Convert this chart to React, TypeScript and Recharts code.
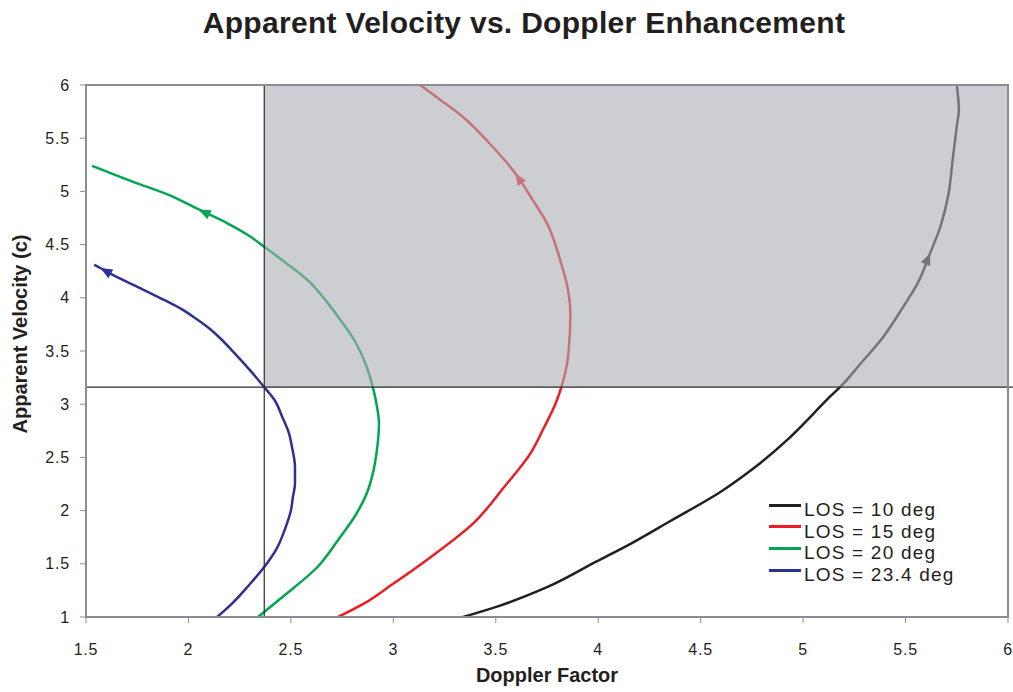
import { LineChart, Line, XAxis, YAxis, ReferenceArea, ReferenceLine, Legend, Label } from "recharts";

const xTicks = [1.5, 2, 2.5, 3, 3.5, 4, 4.5, 5, 5.5, 6];
const yTicks = [1, 1.5, 2, 2.5, 3, 3.5, 4, 4.5, 5, 5.5, 6];

// [doppler factor, apparent velocity], in the order the arrows run
const los10 = [
  [3.34, 1.0], [3.51, 1.1], [3.75, 1.28], [3.99, 1.52], [4.16, 1.69], [4.35, 1.9],
  [4.6, 2.18], [4.76, 2.4], [4.92, 2.66], [5.05, 2.91], [5.12, 3.05], [5.18, 3.16],
  [5.28, 3.38], [5.39, 3.63], [5.49, 3.92], [5.56, 4.14], [5.62, 4.42], [5.67, 4.67],
  [5.71, 4.98], [5.73, 5.3], [5.75, 5.61], [5.76, 5.77], [5.75, 6.0],
];
const los15 = [
  [2.73, 1.0], [2.86, 1.13], [2.99, 1.3], [3.18, 1.56], [3.39, 1.88], [3.54, 2.22],
  [3.67, 2.54], [3.73, 2.76], [3.795, 3.02], [3.82, 3.16], [3.855, 3.48], [3.864, 3.85],
  [3.85, 4.1], [3.815, 4.35], [3.75, 4.7], [3.68, 4.92], [3.595, 5.17], [3.47, 5.45],
  [3.34, 5.7], [3.23, 5.86], [3.13, 6.0],
];
const los20 = [
  [2.34, 1.0], [2.46, 1.19], [2.63, 1.47], [2.74, 1.75], [2.81, 1.94], [2.87, 2.16],
  [2.9, 2.35], [2.92, 2.57], [2.93, 2.82], [2.92, 2.98], [2.9, 3.16], [2.87, 3.35],
  [2.81, 3.6], [2.75, 3.77], [2.68, 3.95], [2.58, 4.17], [2.46, 4.35], [2.37, 4.48],
  [2.29, 4.59], [2.19, 4.7], [2.05, 4.83], [1.9, 4.97], [1.73, 5.09], [1.53, 5.24],
];
const los234 = [
  [2.14, 1.0], [2.22, 1.14], [2.3, 1.31], [2.37, 1.47], [2.43, 1.64], [2.47, 1.82],
  [2.5, 2.0], [2.51, 2.13], [2.52, 2.25], [2.52, 2.41], [2.505, 2.6], [2.49, 2.73],
  [2.46, 2.87], [2.42, 3.04], [2.37, 3.16], [2.3, 3.32], [2.22, 3.49], [2.155, 3.62],
  [2.09, 3.73], [2.025, 3.82], [1.96, 3.9], [1.86, 4.0], [1.765, 4.09], [1.635, 4.21],
  [1.57, 4.28], [1.54, 4.31],
];

// threshold lines bounding the shaded region
const dopplerCut = 2.37;
const velocityCut = 3.16;

const series = [
  { name: "LOS = 10 deg", color: "#231f20", points: los10, arrowAt: 16 },
  { name: "LOS = 15 deg", color: "#ed1c24", points: los15, arrowAt: 16 },
  { name: "LOS = 20 deg", color: "#00a651", points: los20, arrowAt: 20 },
  { name: "LOS = 23.4 deg", color: "#2e3192", points: los234, arrowAt: 24 },
];

const FONT = '"Liberation Sans", Arial, Helvetica, sans-serif';

// arrowhead drawn at one point, pointing along the curve
const makeArrow = (color: string, arrowAt: number, pts: number[][]) => (props: any) => {
  const { cx, cy, index, points } = props;
  if (index !== arrowAt || cx == null) return <g key={`a-${index}`} />;
  let px: number, py: number;
  if (points && points[index - 1]) {
    px = points[index - 1].x;
    py = points[index - 1].y;
  } else {
    px = cx - (pts[index][0] - pts[index - 1][0]) * 205;
    py = cy + (pts[index][1] - pts[index - 1][1]) * 106;
  }
  const ang = Math.atan2(cy - py, cx - px);
  const len = 12;
  const hw = 5;
  const bx = cx - Math.cos(ang) * len;
  const by = cy - Math.sin(ang) * len;
  const nx = -Math.sin(ang) * hw;
  const ny = Math.cos(ang) * hw;
  return (
    <polygon
      key={`a-${index}`}
      points={`${cx},${cy} ${bx + nx},${by + ny} ${bx - nx},${by - ny}`}
      fill={color}
      stroke="none"
    />
  );
};

const LegendBox = () => (
  <div style={{ fontFamily: FONT, fontSize: 19, letterSpacing: 1.2, color: "#231f20" }}>
    {series.map((s) => (
      <div key={s.name} style={{ display: "flex", alignItems: "flex-start", height: 21.7, lineHeight: "21.7px" }}>
        <span style={{ display: "inline-block", width: 32, height: 3, marginTop: 4.5, marginRight: 3, background: s.color }} />
        <span style={{ whiteSpace: "nowrap" }}>{s.name}</span>
      </div>
    ))}
  </div>
);

export default function App() {
  return (
    <div style={{ position: "absolute", left: 0, top: 0, width: 1013, height: 692, background: "#fff" }}>
      <div
        style={{
          position: "absolute",
          left: 0,
          top: 3,
          width: 1048,
          textAlign: "center",
          fontFamily: FONT,
          fontWeight: "bold",
          fontSize: 30,
          lineHeight: "40px",
          color: "#231f20",
          letterSpacing: 0.3,
        }}
      >
        Apparent Velocity vs. Doppler Enhancement
      </div>
      <LineChart width={1013} height={692} margin={{ top: 85, right: 5, bottom: 0, left: 0 }}>
        <XAxis
          type="number"
          dataKey="d"
          domain={[1.5, 6]}
          ticks={xTicks}
          allowDataOverflow
          height={75}
          axisLine={false}
          tickLine={{ stroke: "#8a8d93" }}
          tickSize={6}
          tickMargin={21}
          tick={{ fill: "#231f20", fontSize: 16, fontFamily: FONT, letterSpacing: 0.8 }}
        >
          <Label
            content={() => (
              <text x={547} y={682} textAnchor="middle" fontFamily={FONT} fontWeight="bold" fontSize={20} fill="#231f20">
                Doppler Factor
              </text>
            )}
          />
        </XAxis>
        <YAxis
          type="number"
          dataKey="v"
          domain={[1, 6]}
          ticks={yTicks}
          allowDataOverflow
          width={86}
          axisLine={false}
          tickLine={{ stroke: "#8a8d93" }}
          tickSize={6}
          tickMargin={10}
          tick={{ fill: "#231f20", fontSize: 16, fontFamily: FONT, letterSpacing: 0.8 }}
        >
          <Label
            content={() => (
              <text
                x={27}
                y={334}
                transform="rotate(-90 27 334)"
                textAnchor="middle"
                fontFamily={FONT}
                fontWeight="bold"
                fontSize={20}
                fill="#231f20"
              >
                Apparent Velocity (c)
              </text>
            )}
          />
        </YAxis>
        {series.map((s) => (
          <Line
            key={s.name}
            name={s.name}
            data={s.points.map(([d, v]) => ({ d, v }))}
            dataKey="v"
            type="monotoneY"
            stroke={s.color}
            strokeWidth={2.5}
            dot={makeArrow(s.color, s.arrowAt, s.points)}
            activeDot={false}
            isAnimationActive={false}
          />
        ))}
        <ReferenceArea
          x1={dopplerCut}
          x2={6}
          y1={velocityCut}
          y2={6}
          fill="#abadb2"
          fillOpacity={0.6}
          stroke="none"
          zIndex={1500}
        />
        <ReferenceLine x={dopplerCut} stroke="#2b2b2b" strokeWidth={1.2} zIndex={1510} />
        <ReferenceLine
          segment={[{ x: 1.5, y: velocityCut }, { x: 6.03, y: velocityCut }]}
          ifOverflow="visible"
          stroke="#2b2b2b"
          strokeWidth={1.2}
          zIndex={1510}
        />
        <ReferenceArea x1={1.5} x2={6} y1={1} y2={6} fill="none" stroke="#8a8d93" strokeWidth={2} zIndex={1520} />
        <Legend
          layout="horizontal"
          verticalAlign="middle"
          align="center"
          content={() => <LegendBox />}
          wrapperStyle={{ left: 769, top: 499, width: "auto" }}
        />
      </LineChart>
    </div>
  );
}
